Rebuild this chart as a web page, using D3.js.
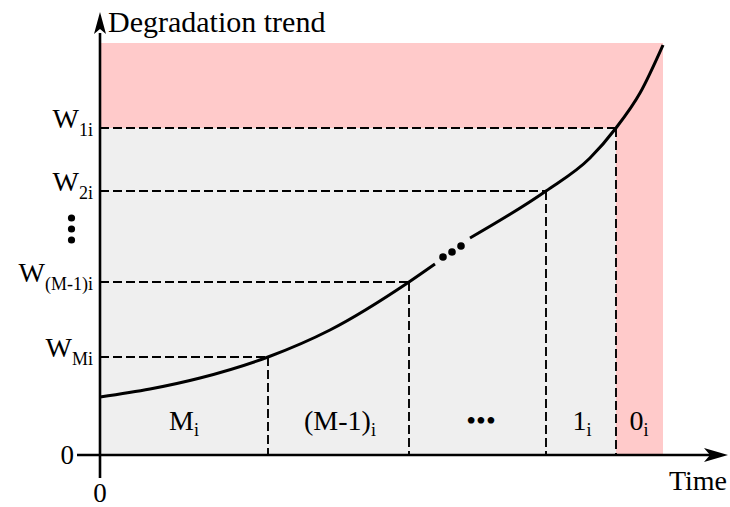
<!DOCTYPE html>
<html><head><meta charset="utf-8">
<script src="https://cdn.jsdelivr.net/npm/d3@7"></script>
<style>html,body{margin:0;padding:0;background:#fff}svg{display:block}</style>
</head><body>
<svg id="c" width="730" height="507"></svg>
<script>
// ---- data (time units / degradation units) ----
const curveA = [[0,58],[50,66],[100,77],[168,98],[230,125],[309,173],[335,191]];
const curveB = [[370,217],[446,264],[490,297],[516,327],[540,362],[563,410]];
const ellipsisPts = [[343,198],[352,203],[361,209]];
const thresholds = [
  {name:"W", sub:"1i", v:327, t:516},
  {name:"W", sub:"2i", v:264, t:446},
  {name:"W", sub:"(M-1)i", v:173, t:309},
  {name:"W", sub:"Mi", v:98, t:168}
];
const stateLabels = [
  {main:"M", sub:"i", t:84},
  {main:"(M-1)", sub:"i", t:240},
  {main:"•••", sub:"", t:381},
  {main:"1", sub:"i", t:482},
  {main:"0", sub:"i", t:539}
];
const failTime = 563, failTop = 412;
const yAxisTitle = "Degradation trend", xAxisTitle = "Time";

// ---- scales ----
const x = d3.scaleLinear().domain([0,628]).range([100,728]);
const y = d3.scaleLinear().domain([0,440]).range([455,15]);
const svg = d3.select("#c");
const font = "'Liberation Serif','Times New Roman',serif";

// regions
const w1 = thresholds[0];
svg.append("rect").attr("x",x(0)).attr("y",y(failTop)).attr("width",x(failTime)-x(0)).attr("height",y(0)-y(failTop)).attr("fill","#ffcaca");
svg.append("rect").attr("x",x(0)).attr("y",y(w1.v)).attr("width",x(w1.t)-x(0)).attr("height",y(0)-y(w1.v)).attr("fill","#efefef");

// dashed guides
thresholds.forEach(d=>{
  svg.append("line").attr("x1",x(0)).attr("x2",x(d.t)).attr("y1",y(d.v)).attr("y2",y(d.v))
    .attr("stroke","#000").attr("stroke-width",1.9).attr("stroke-dasharray","9,4");
  svg.append("line").attr("x1",x(d.t)).attr("x2",x(d.t)).attr("y1",y(d.v)).attr("y2",y(0))
    .attr("stroke","#000").attr("stroke-width",1.9).attr("stroke-dasharray","9,4");
});

// curve
const line = d3.line().x(d=>x(d[0])).y(d=>y(d[1])).curve(d3.curveMonotoneX);
[curveA,curveB].forEach(c=>svg.append("path").attr("d",line(c)).attr("fill","none").attr("stroke","#000").attr("stroke-width",3));
svg.selectAll(".ed").data(ellipsisPts).enter().append("circle").attr("cx",d=>x(d[0])).attr("cy",d=>y(d[1])).attr("r",3.8).attr("fill","#000");

// axes
svg.append("line").attr("x1",77).attr("x2",x(612)).attr("y1",y(0)).attr("y2",y(0)).attr("stroke","#000").attr("stroke-width",2.6);
svg.append("line").attr("x1",x(0)).attr("x2",x(0)).attr("y1",478).attr("y2",y(422)).attr("stroke","#000").attr("stroke-width",2.6);
// arrowheads
const xt = x(628), yx = y(0);
svg.append("path").attr("d",`M${xt},${yx} L${xt-24},${yx-7} L${xt-18},${yx} L${xt-24},${yx+7} Z`).attr("fill","#000");
const yt = y(443), xy = x(0);
svg.append("path").attr("d",`M${xy},${yt} L${xy-6},${yt+22} L${xy},${yt+17} L${xy+6},${yt+22} Z`).attr("fill","#000");

// axis titles
svg.append("text").attr("x",108).attr("y",32).attr("font-family",font).attr("font-size",30).text(yAxisTitle);
svg.append("text").attr("x",727).attr("y",490).attr("text-anchor","end").attr("font-family",font).attr("font-size",28).text(xAxisTitle);
// zero labels
svg.append("text").attr("x",74).attr("y",y(0)+9).attr("text-anchor","end").attr("font-family",font).attr("font-size",27).text("0");
svg.append("text").attr("x",x(0)).attr("y",502).attr("text-anchor","middle").attr("font-family",font).attr("font-size",27).text("0");

// threshold labels
thresholds.forEach(d=>{
  const t = svg.append("text").attr("x",93).attr("y",y(d.v)).attr("text-anchor","end").attr("font-family",font).attr("font-size",28);
  t.append("tspan").text(d.name);
  t.append("tspan").attr("font-size",18).attr("dy",8).text(d.sub);
});
// vertical ellipsis
[218,229,240].forEach(cy=>svg.append("circle").attr("cx",71.5).attr("cy",cy).attr("r",3.6).attr("fill","#000"));

// state labels
stateLabels.forEach(d=>{
  const t = svg.append("text").attr("x",x(d.t)).attr("y",430).attr("text-anchor","middle").attr("font-family",font).attr("font-size",28);
  t.append("tspan").text(d.main);
  if(d.sub) t.append("tspan").attr("font-size",18).attr("dy",6).text(d.sub);
});
</script>
</body></html>
